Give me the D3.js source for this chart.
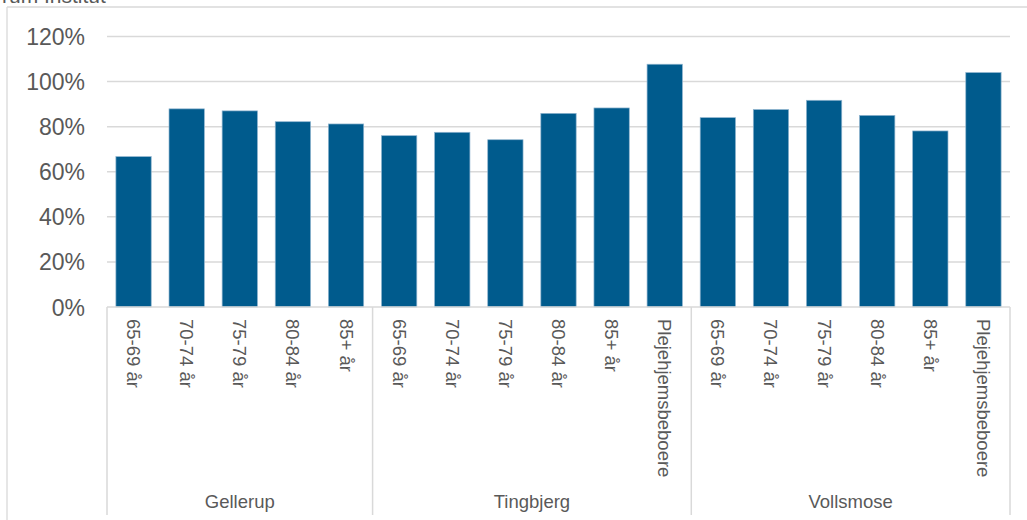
<!DOCTYPE html>
<html>
<head>
<meta charset="utf-8">
<script src="https://cdn.jsdelivr.net/npm/d3@7"></script>
<style>
  html, body { margin: 0; padding: 0; background: #fff; }
  svg { display: block; font-family: "Liberation Sans", Arial, sans-serif; }
</style>
</head>
<body>
<svg id="chart" width="1027" height="520"></svg>
<script>
// Andel pr. aldersgruppe i de tre boligområder
const groups = ["Gellerup", "Tingbjerg", "Vollsmose"];
const gellerupAges = ["65-69 år", "70-74 år", "75-79 år", "80-84 år", "85+ år"];
const tingbjergAges = ["65-69 år", "70-74 år", "75-79 år", "80-84 år", "85+ år", "Plejehjemsbeboere"];
const vollsmoseAges = ["65-69 år", "70-74 år", "75-79 år", "80-84 år", "85+ år", "Plejehjemsbeboere"];
const gellerupValues = [0.667, 0.879, 0.870, 0.822, 0.812];
const tingbjergValues = [0.760, 0.775, 0.742, 0.859, 0.883, 1.077];
const vollsmoseValues = [0.840, 0.876, 0.917, 0.850, 0.781, 1.040];
const yTicks = [0, 0.2, 0.4, 0.6, 0.8, 1.0, 1.2];

// Flat list of bars with their group
const rows = [];
[[gellerupAges, gellerupValues], [tingbjergAges, tingbjergValues], [vollsmoseAges, vollsmoseValues]]
  .forEach(([ages, vals], gi) => {
    ages.forEach((a, i) => rows.push({ key: groups[gi] + "|" + a, group: groups[gi], label: a, value: vals[i] }));
  });

const svg = d3.select("#chart");
const W = 1027, H = 520;
const plot = { left: 107, right: 1010, top: 36.5, bottom: 307 };
const textColor = "#595959";
const lineColor = "#d9d9d9";

// Outer chart frame (top and left edges)
svg.append("line").attr("x1", 7).attr("x2", W).attr("y1", 7).attr("y2", 7)
  .attr("stroke", lineColor).attr("stroke-width", 1.3);
svg.append("line").attr("x1", 7).attr("x2", 7).attr("y1", 7).attr("y2", H)
  .attr("stroke", lineColor).attr("stroke-width", 1.3);

// Source text at the top
svg.append("text").attr("x", 2).attr("y", 3)
  .attr("fill", textColor).attr("font-size", 21).text("rum Institut");

const x = d3.scaleBand().domain(rows.map(d => d.key))
  .range([plot.left, plot.right]).paddingInner(0.335).paddingOuter(0.1675);
const y = d3.scaleLinear().domain([0, 1.2]).range([plot.bottom, plot.top]);

// Gridlines
svg.append("g").selectAll("line").data(yTicks.filter(t => t > 0)).join("line")
  .attr("x1", plot.left).attr("x2", plot.right)
  .attr("y1", d => y(d)).attr("y2", d => y(d))
  .attr("stroke", lineColor).attr("stroke-width", 1.5);

// Y axis labels
const yAxis = d3.axisLeft(y).tickValues(yTicks).tickFormat(d3.format(".0%")).tickSize(0).tickPadding(0);
const yg = svg.append("g").attr("transform", `translate(${plot.left - 22},0)`).call(yAxis);
yg.select(".domain").remove();
yg.selectAll("text").attr("fill", textColor).attr("font-size", 23)
  .attr("font-family", "Liberation Sans, Arial, sans-serif").attr("dy", "0.35em");

// Bars
svg.append("g").selectAll("rect").data(rows).join("rect")
  .attr("x", d => x(d.key)).attr("width", x.bandwidth())
  .attr("y", d => y(d.value)).attr("height", d => y(0) - y(d.value))
  .attr("fill", "#005b8d")
  .attr("stroke", "#8fb4cf").attr("stroke-width", 0.7);

// Baseline
svg.append("line").attr("x1", plot.left).attr("x2", plot.right)
  .attr("y1", y(0)).attr("y2", y(0)).attr("stroke", lineColor).attr("stroke-width", 1.5);

// Group separators below the axis
const step = x.step();
const bounds = [];
let idx = 0;
const groupRanges = groups.map(g => {
  const n = rows.filter(r => r.group === g).length;
  const r = { group: g, x0: plot.left + idx * step, x1: plot.left + (idx + n) * step };
  idx += n;
  return r;
});
groupRanges.forEach(r => bounds.push(r.x0));
bounds.push(plot.right);
svg.append("g").selectAll("line").data(bounds).join("line")
  .attr("x1", d => d).attr("x2", d => d)
  .attr("y1", y(0)).attr("y2", 515)
  .attr("stroke", lineColor).attr("stroke-width", 1.5);

// Rotated category labels
svg.append("g").selectAll("text").data(rows).join("text")
  .attr("transform", d => `translate(${x(d.key) + x.bandwidth() / 2},${319}) rotate(90)`)
  .attr("dy", "0.35em")
  .attr("fill", textColor).attr("font-size", 18.5)
  .text(d => d.label);

// Group labels
svg.append("g").selectAll("text").data(groupRanges).join("text")
  .attr("x", d => (d.x0 + d.x1) / 2).attr("y", 502).attr("dy", "0.35em")
  .attr("text-anchor", "middle").attr("fill", textColor).attr("font-size", 18.5)
  .text(d => d.group);
</script>
</body>
</html>
